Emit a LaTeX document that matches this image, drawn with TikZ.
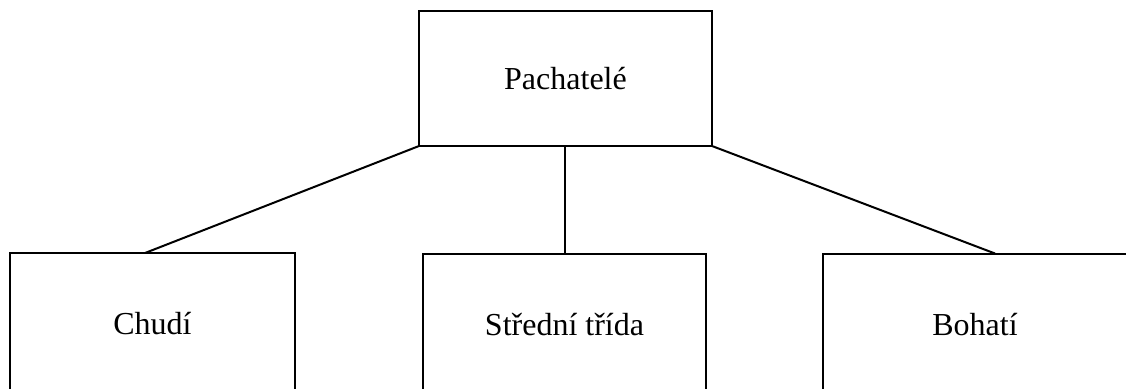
\documentclass[tikz,border=0pt]{standalone}
\usepackage{fontspec}
\setmainfont{Liberation Serif}

\begin{document}
\begin{tikzpicture}[x=0.5pt, y=-0.5pt]
\tikzset{
	skupina/.style={draw,
		shape=rectangle,
		line width=1pt,
		minimum height=67.5pt,
		minimum width=142.5pt,
		inner sep=0pt,
		outer sep=0pt, % lines meet the border
		font=\fontsize{16}{19}\selectfont
},
	spodni/.style={skupina, minimum height=71pt}}
\useasboundingbox (0,0) rectangle (1126,388);
\node[skupina, minimum width=146.5pt] (PACHATELE) at (565.5,78.5) {Pachatelé};
\node[spodni] (CHUDI) at (152.5,324) {Chudí};
\node[spodni, minimum width=141.5pt] (STREDNI) at (564.5,324.5) {Střední třída};
\node[spodni, minimum width=152pt] (BOHATI) at (975,324.5) {Bohatí};
{\draw[line width=1pt] (PACHATELE.south west) -- ([xshift=-3.75pt]CHUDI.north);}
{\draw[line width=1pt] (STREDNI.north) -- (STREDNI.north |- PACHATELE.south);}
{\draw[line width=1pt] (PACHATELE.south east) -- ([xshift=10pt]BOHATI.north);}

\end{tikzpicture}
\end{document}
